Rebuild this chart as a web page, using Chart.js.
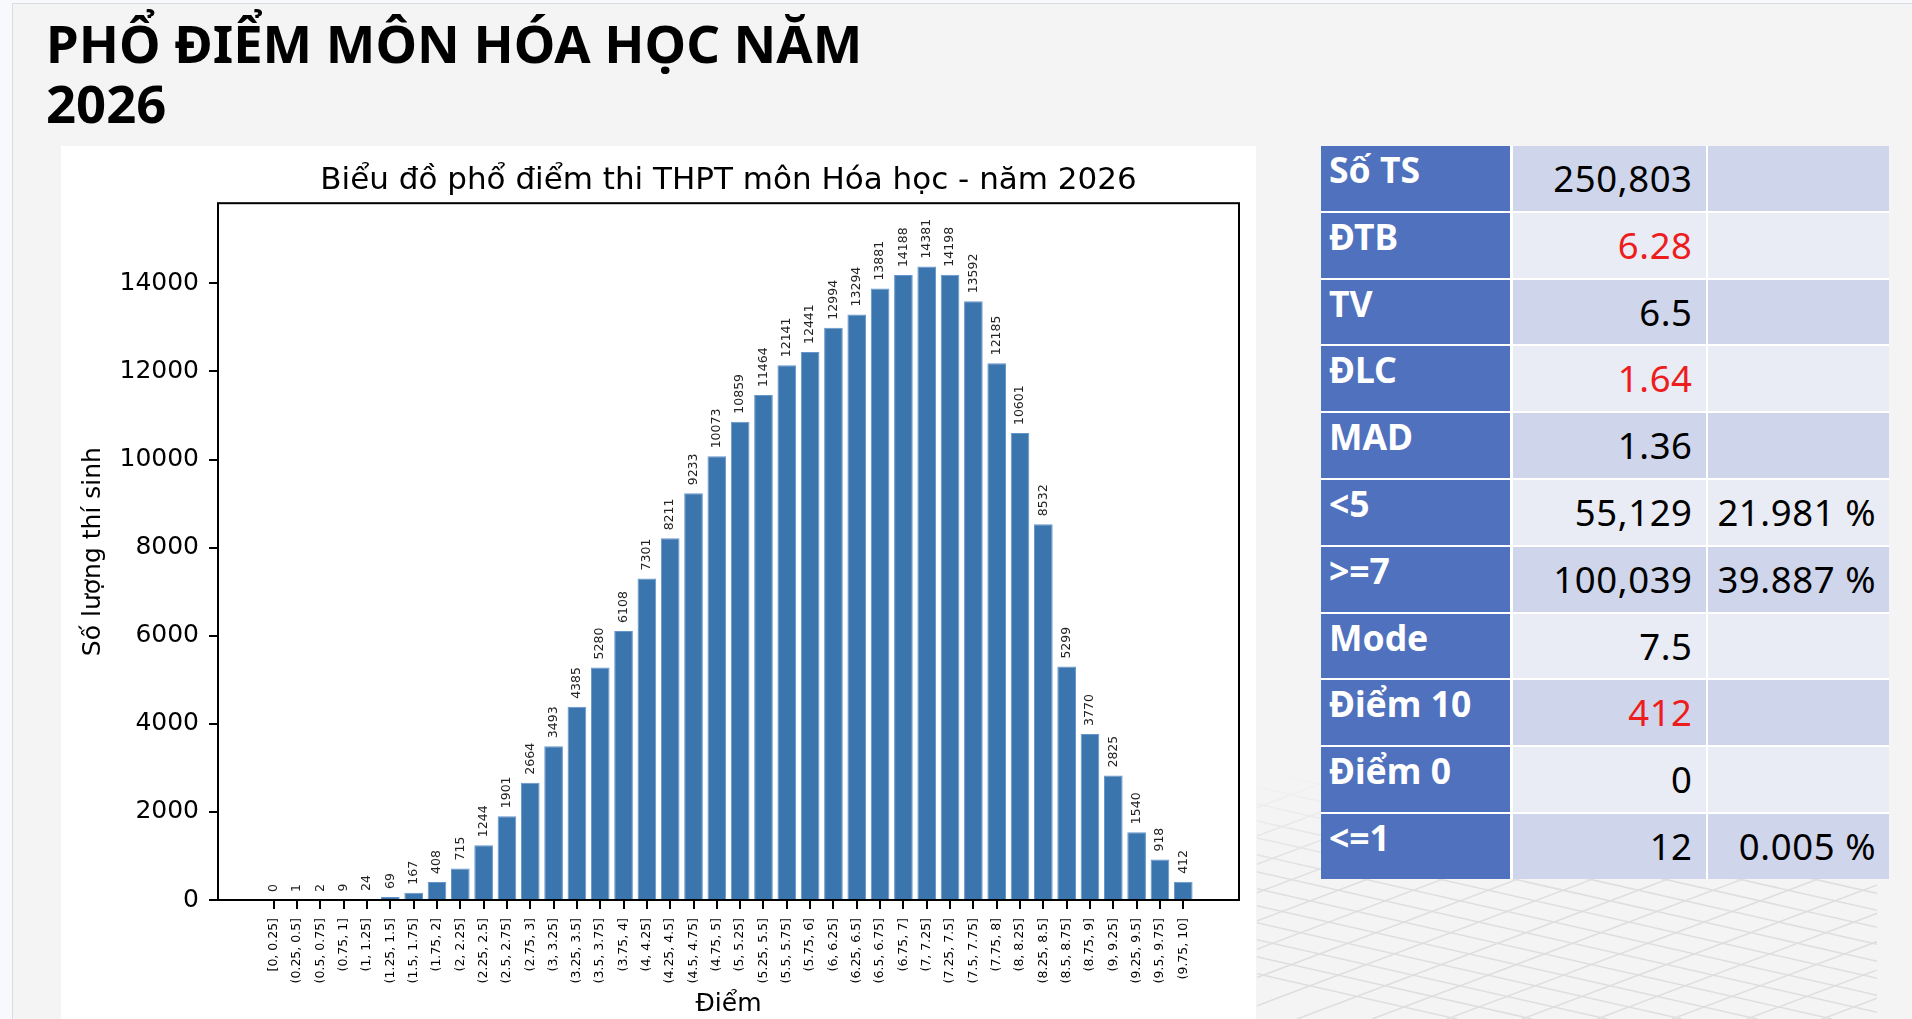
<!DOCTYPE html>
<html>
<head>
<meta charset="utf-8">
<script src="https://cdn.jsdelivr.net/npm/chart.js@4.4.1/dist/chart.umd.min.js"></script>
<style>
body { margin: 0; width: 1912px; height: 1019px; overflow: hidden; background: #f8f9fc; position: relative; font-family: 'Noto Sans', sans-serif; }
#slide { position: absolute; left: 12px; top: 3px; width: 1920px; height: 1030px; background: #f4f4f4; border-left: 1px solid #dcdde1; border-top: 1px solid #dcdde1; }
#floor { position: absolute; left: 1257px; top: 770px; }
h1 { position: absolute; left: 46px; top: 13px; margin: 0; font-size: 52.6px; line-height: 60px; font-weight: 700; color: #000; }
#chartBox { position: absolute; left: 61px; top: 146px; width: 1195px; height: 873px; background: #fff; }
#stats { position: absolute; left: 1321px; top: 146px; display: grid; grid-template-columns: 189px 193px 181px; grid-auto-rows: 64.8px; column-gap: 2.6px; row-gap: 2px; background: #fff; }
#stats div { position: relative; box-sizing: border-box; }
.lab { background: #4f71be; color: #fff; font-weight: 700; font-size: 35.5px; line-height: 35px; padding: 6px 0 0 8px; white-space: nowrap; }
.val { font-size: 36.5px; line-height: 36px; padding: 14px 13px 0 0; text-align: right; color: #000; letter-spacing: 0.6px; white-space: nowrap; }
.dark { background: #cfd5ea; }
.light { background: #e9ebf5; }
.red { color: #ee1d1d; }
</style>
</head>
<body>
<div id="slide"></div>
<svg id="floor" width="620" height="249"></svg>
<h1>PHỔ ĐIỂM MÔN HÓA HỌC NĂM<br>2026</h1>
<div id="chartBox"><canvas id="myChart"></canvas></div>
<div id="stats"></div>

<script>
// bins of the score histogram
var binLabels = ['[0, 0.25]', '(0.25, 0.5]', '(0.5, 0.75]', '(0.75, 1]', '(1, 1.25]', '(1.25, 1.5]', '(1.5, 1.75]', '(1.75, 2]',
    '(2, 2.25]', '(2.25, 2.5]', '(2.5, 2.75]', '(2.75, 3]', '(3, 3.25]', '(3.25, 3.5]', '(3.5, 3.75]', '(3.75, 4]',
    '(4, 4.25]', '(4.25, 4.5]', '(4.5, 4.75]', '(4.75, 5]', '(5, 5.25]', '(5.25, 5.5]', '(5.5, 5.75]', '(5.75, 6]',
    '(6, 6.25]', '(6.25, 6.5]', '(6.5, 6.75]', '(6.75, 7]', '(7, 7.25]', '(7.25, 7.5]', '(7.5, 7.75]', '(7.75, 8]',
    '(8, 8.25]', '(8.25, 8.5]', '(8.5, 8.75]', '(8.75, 9]', '(9, 9.25]', '(9.25, 9.5]', '(9.5, 9.75]', '(9.75, 10]'];

var counts = [0, 1, 2, 9, 24, 69, 167, 408,
    715, 1244, 1901, 2664, 3493, 4385, 5280, 6108,
    7301, 8211, 9233, 10073, 10859, 11464, 12141, 12441,
    12994, 13294, 13881, 14188, 14381, 14198, 13592, 12185,
    10601, 8532, 5299, 3770, 2825, 1540, 918, 412];

var yTicks = [0, 2000, 4000, 6000, 8000, 10000, 12000, 14000];

// summary table
var statNames = ['Số TS', 'ĐTB', 'TV', 'ĐLC', 'MAD', '<5', '>=7', 'Mode', 'Điểm 10', 'Điểm 0', '<=1'];
var statValues = ['250,803', '6.28', '6.5', '1.64', '1.36', '55,129', '100,039', '7.5', '412', '0', '12'];
var statPercents = ['', '', '', '', '', '21.981 %', '39.887 %', '', '', '', '0.005 %'];
var statRed = [false, true, false, true, false, false, false, false, true, false, false];

var stats = document.getElementById('stats');
for (let i = 0; i < statNames.length; i++) {
    var shade = (i % 2 == 0) ? 'dark' : 'light';
    var a = document.createElement('div');
    a.className = 'lab';
    a.textContent = statNames[i];
    var b = document.createElement('div');
    b.className = 'val ' + shade + (statRed[i] ? ' red' : '');
    b.textContent = statValues[i];
    var c = document.createElement('div');
    c.className = 'val ' + shade;
    c.textContent = statPercents[i];
    stats.appendChild(a);
    stats.appendChild(b);
    stats.appendChild(c);
}

// faint floor grid in the lower right corner (decoration)
var svg = document.getElementById('floor');
var lines = '<defs><linearGradient id="fade" x1="0" y1="0" x2="0" y2="1"><stop offset="0" stop-color="#fff" stop-opacity="0"/><stop offset="0.45" stop-color="#fff" stop-opacity="1"/></linearGradient>'
    + '<mask id="m"><rect width="620" height="249" fill="url(#fade)"/></mask></defs><g mask="url(#m)" stroke="#dedede" stroke-width="1.5">';
for (let k = -12; k < 14; k++) {
    lines += '<line x1="' + (k * 75) + '" y1="0" x2="' + (k * 75 + 1100) + '" y2="249"/>';
    lines += '<line x1="' + (k * 75 + 700) + '" y1="0" x2="' + (k * 75 + 40) + '" y2="249"/>';
}
svg.innerHTML = lines + '</g>';

Chart.defaults.font.family = "'DejaVu Sans'";
Chart.defaults.color = '#000';

var framePlugin = {
    id: 'frame',
    afterDraw(chart) {
        var a = chart.chartArea;
        var ctx = chart.ctx;
        ctx.save();
        ctx.strokeStyle = '#000';
        ctx.lineWidth = 2;
        ctx.strokeRect(a.left, a.top, a.right - a.left, a.bottom - a.top);
        ctx.restore();
    }
};

var barLabelPlugin = {
    id: 'barLabels',
    afterDatasetsDraw(chart) {
        var ctx = chart.ctx;
        var meta = chart.getDatasetMeta(0);
        ctx.save();
        ctx.fillStyle = '#222';
        ctx.font = '12.5px "DejaVu Sans"';
        ctx.textAlign = 'left';
        ctx.textBaseline = 'middle';
        meta.data.forEach(function (bar, i) {
            ctx.save();
            ctx.translate(bar.x, bar.y - 8);
            ctx.rotate(-Math.PI / 2);
            ctx.fillText(String(counts[i]), 0, 0);
            ctx.restore();
        });
        ctx.restore();
    }
};

var data = {
    datasets: [{
        label: 'Số lượng thí sinh',
        data: counts.map((v, i) => ({x: i, y: v})),
        backgroundColor: '#3a75ae',
        borderColor: '#6596cb',
        borderWidth: 1,
        categoryPercentage: 0.8,
        barPercentage: 1
    }]
};

const config = {
    type: 'bar',
    data: data,
    options: {
        responsive: true,
        maintainAspectRatio: false,
        animation: false,
        layout: {padding: {left: 0, right: 17, top: 0, bottom: 0}},
        plugins: {
            legend: {display: false},
            tooltip: {enabled: false},
            title: {
                display: true,
                fullSize: false,
                text: 'Biểu đồ phổ điểm thi THPT môn Hóa học - năm 2026',
                color: '#000',
                font: {size: 31, weight: 'normal'},
                padding: {top: 16, bottom: 4}
            }
        },
        scales: {
            x: {
                type: 'linear',
                min: -2.39,
                max: 41.39,
                offset: false,
                grid: {drawOnChartArea: false, offset: false, color: '#000', lineWidth: 2, tickLength: 9},
                border: {display: false},
                ticks: {
                    autoSkip: false,
                    maxRotation: 90,
                    minRotation: 90,
                    padding: 9,
                    font: {size: 12.5},
                    color: '#000',
                    callback: (v) => binLabels[v]
                },
                afterBuildTicks: (s) => { s.ticks = binLabels.map((_, i) => ({value: i})); },
                afterFit: (s) => { s.height = 119; },
                title: {display: true, text: 'Điểm', font: {size: 25}, color: '#000', padding: {top: 0, bottom: 0}}
            },
            y: {
                min: 0,
                max: 15820,
                grid: {drawOnChartArea: false, color: '#000', lineWidth: 2, tickLength: 9},
                border: {display: false},
                ticks: {padding: 10, font: {size: 25}, color: '#000', callback: (v) => String(v)},
                afterBuildTicks: (s) => { s.ticks = yTicks.map((v) => ({value: v})); },
                afterFit: (s) => { s.width = 157; },
                title: {display: true, text: 'Số lượng thí sinh', font: {size: 25}, color: '#000', padding: {top: 17, bottom: 0}}
            }
        }
    },
    plugins: [framePlugin, barLabelPlugin]
};

const myChart = new Chart(document.getElementById('myChart'), config);
</script>
</body>
</html>
